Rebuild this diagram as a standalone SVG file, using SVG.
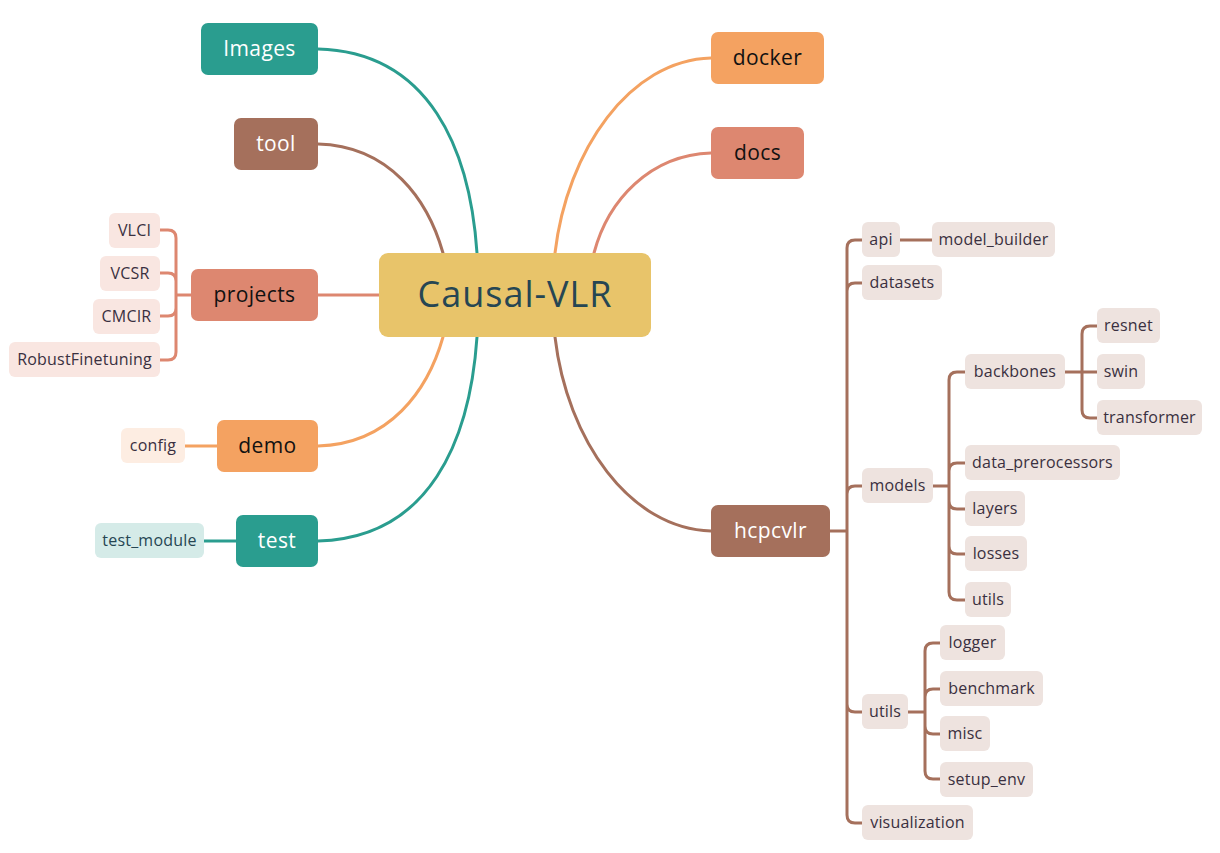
<svg xmlns="http://www.w3.org/2000/svg" width="1220" height="853" viewBox="0 0 1220 853">
<style>
text{font-family:"Open Sans",Lato,"Liberation Sans",sans-serif;text-anchor:middle;dominant-baseline:central}
.main{font-size:21px;letter-spacing:0.4px}
.sub{font-size:16px;fill:#3a3040;letter-spacing:0.2px}
.w{fill:#ffffff}
.k{fill:#111111}
.c{fill:none;stroke-width:3;stroke-linecap:round}
.teal{stroke:#2A9D8F}.brown{stroke:#A5705C}.coral{stroke:#DD8770}.orange{stroke:#F4A261}
.hc{fill:#EEE3DF}
</style>
<rect width="1220" height="853" fill="#ffffff"/>
<g id="connectors">
<path class="c teal" d="M318,49 C430,52 470,150 477,253"/>
<path class="c brown" d="M318,144 C390,146 428,200 443,253"/>
<path class="c coral" d="M318,295 H379"/>
<path class="c orange" d="M318,446 C390,444 428,390 443,337"/>
<path class="c teal" d="M318,541 C430,538 470,440 477,337"/>
<path class="c orange" d="M711,58 C630,60 567,150 555,253"/>
<path class="c coral" d="M711,153 C650,155 608,200 594,253"/>
<path class="c brown" d="M711,531 C630,529 567,440 555,337"/>
<path class="c coral" d="M191,295 H176 M176,295 V238 Q176,230 168,230 H160 M176,295 V281 Q176,273 168,273 H160 M176,295 V308 Q176,316 168,316 H160 M176,295 V352 Q176,360 168,360 H160"/>
<path class="c orange" d="M185,446 H217"/>
<path class="c teal" d="M204,541 H236"/>
<path class="c brown" d="M830,531 H847 M847,531 V248 Q847,240 855,240 H862 M847,531 V291 Q847,283 855,283 H862 M847,531 V494 Q847,486 855,486 H862 M847,531 V704 Q847,712 855,712 H862 M847,531 V815 Q847,823 855,823 H862 M900,240 H932"/>
<path class="c brown" d="M933,486 H949 M949,486 V380 Q949,372 957,372 H965 M949,486 V471 Q949,463 957,463 H965 M949,486 V501 Q949,509 957,509 H965 M949,486 V546 Q949,554 957,554 H965 M949,486 V592 Q949,600 957,600 H965"/>
<path class="c brown" d="M1065,372 H1097 M1082,372 V334 Q1082,326 1090,326 H1097 M1082,372 V410 Q1082,418 1090,418 H1097"/>
<path class="c brown" d="M908,712 H925 M925,712 V651 Q925,643 933,643 H940 M925,712 V697 Q925,689 933,689 H940 M925,712 V726 Q925,734 933,734 H940 M925,712 V771 Q925,779 933,779 H940"/>
</g>
<g id="central"><rect x="379" y="253" width="272" height="84" rx="9" fill="#E8C46A"/><text x="515" y="293" style="font-size:36px;fill:#264653;letter-spacing:1px">Causal-VLR</text></g>
<g id="images"><rect x="201" y="23" width="117" height="52" rx="7" fill="#2A9D8F"/><text class="main w" x="259.5" y="48">Images</text></g>
<g id="tool"><rect x="234" y="118" width="84" height="52" rx="7" fill="#A5705C"/><text class="main w" x="276" y="143">tool</text></g>
<g id="projects"><rect x="191" y="269" width="127" height="52" rx="7" fill="#DD8770"/><text class="main k" x="254.5" y="294">projects</text></g>
<g id="demo"><rect x="217" y="420" width="101" height="52" rx="7" fill="#F4A261"/><text class="main k" x="267.5" y="445">demo</text></g>
<g id="test"><rect x="236" y="515" width="82" height="52" rx="7" fill="#2A9D8F"/><text class="main w" x="277" y="540">test</text></g>
<g id="docker"><rect x="711" y="32" width="113" height="52" rx="7" fill="#F4A261"/><text class="main k" x="767.5" y="57">docker</text></g>
<g id="docs"><rect x="711" y="127" width="93" height="52" rx="7" fill="#DD8770"/><text class="main k" x="757.5" y="152">docs</text></g>
<g id="hcpcvlr"><rect x="711" y="505" width="119" height="52" rx="7" fill="#A5705C"/><text class="main w" x="770.5" y="530">hcpcvlr</text></g>
<g id="vlci"><rect x="109" y="213" width="51" height="35" rx="6" fill="#F9E6E1"/><text class="sub" x="134.5" y="229.5">VLCI</text></g>
<g id="vcsr"><rect x="100" y="256" width="60" height="35" rx="6" fill="#F9E6E1"/><text class="sub" x="130" y="272.5">VCSR</text></g>
<g id="cmcir"><rect x="93" y="299" width="67" height="35" rx="6" fill="#F9E6E1"/><text class="sub" x="126.5" y="315.5">CMCIR</text></g>
<g id="robust"><rect x="9" y="342" width="151" height="35" rx="6" fill="#F9E6E1"/><text class="sub" x="84.5" y="358.5">RobustFinetuning</text></g>
<g id="config"><rect x="121" y="428" width="64" height="35" rx="6" fill="#FDEDE2"/><text class="sub" x="153" y="444.5">config</text></g>
<g id="test_module"><rect x="95" y="523" width="109" height="35" rx="6" fill="#D5EBE8"/><text class="sub" x="149.5" y="539.5" style="fill:#264653">test_module</text></g>
<g id="api"><rect class="hc" x="862" y="222" width="38" height="35" rx="6"/><text class="sub" x="881" y="238.5">api</text></g>
<g id="model_builder"><rect class="hc" x="932" y="222" width="123" height="35" rx="6"/><text class="sub" x="993.5" y="238.5">model_builder</text></g>
<g id="datasets"><rect class="hc" x="862" y="265" width="80" height="35" rx="6"/><text class="sub" x="902" y="281.5">datasets</text></g>
<g id="models"><rect class="hc" x="862" y="468" width="71" height="35" rx="6"/><text class="sub" x="897.5" y="484.5">models</text></g>
<g id="utils"><rect class="hc" x="862" y="694" width="46" height="35" rx="6"/><text class="sub" x="885" y="710.5">utils</text></g>
<g id="visualization"><rect class="hc" x="862" y="805" width="111" height="35" rx="6"/><text class="sub" x="917.5" y="821.5">visualization</text></g>
<g id="backbones"><rect class="hc" x="965" y="354" width="100" height="35" rx="6"/><text class="sub" x="1015" y="370.5">backbones</text></g>
<g id="data_prerocessors"><rect class="hc" x="965" y="445" width="155" height="35" rx="6"/><text class="sub" x="1042.5" y="461.5">data_prerocessors</text></g>
<g id="layers"><rect class="hc" x="965" y="491" width="60" height="35" rx="6"/><text class="sub" x="995" y="507.5">layers</text></g>
<g id="losses"><rect class="hc" x="965" y="536" width="62" height="35" rx="6"/><text class="sub" x="996" y="552.5">losses</text></g>
<g id="models_utils"><rect class="hc" x="965" y="582" width="46" height="35" rx="6"/><text class="sub" x="988" y="598.5">utils</text></g>
<g id="resnet"><rect class="hc" x="1097" y="308" width="63" height="35" rx="6"/><text class="sub" x="1128.5" y="324.5">resnet</text></g>
<g id="swin"><rect class="hc" x="1097" y="354" width="48" height="35" rx="6"/><text class="sub" x="1121" y="370.5">swin</text></g>
<g id="transformer"><rect class="hc" x="1097" y="400" width="105" height="35" rx="6"/><text class="sub" x="1149.5" y="416.5">transformer</text></g>
<g id="logger"><rect class="hc" x="940" y="625" width="65" height="35" rx="6"/><text class="sub" x="972.5" y="641.5">logger</text></g>
<g id="benchmark"><rect class="hc" x="940" y="671" width="103" height="35" rx="6"/><text class="sub" x="991.5" y="687.5">benchmark</text></g>
<g id="misc"><rect class="hc" x="940" y="716" width="50" height="35" rx="6"/><text class="sub" x="965" y="732.5">misc</text></g>
<g id="setup_env"><rect class="hc" x="940" y="762" width="93" height="35" rx="6"/><text class="sub" x="986.5" y="778.5">setup_env</text></g>
</svg>
